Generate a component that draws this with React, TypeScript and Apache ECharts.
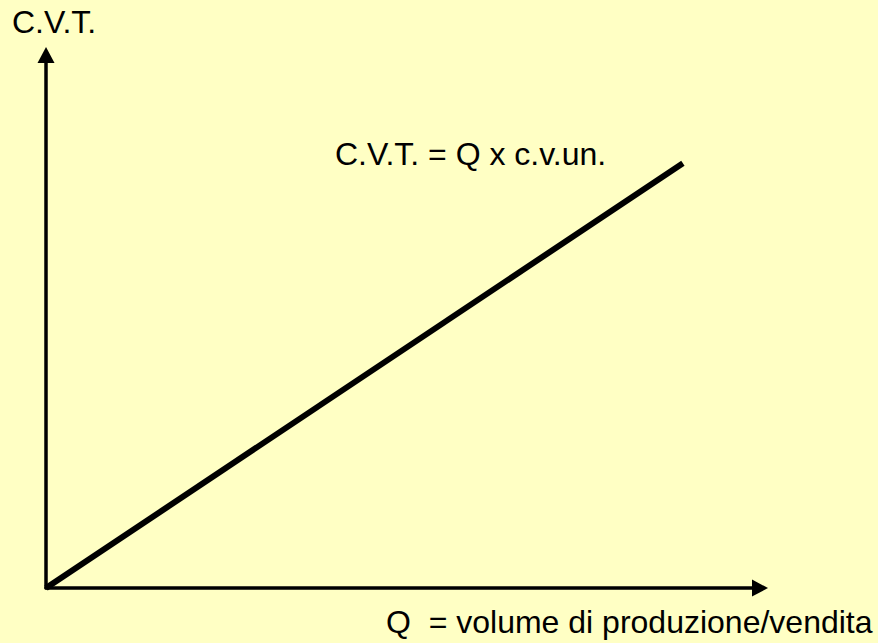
import React, { useEffect, useRef } from "react";
import * as echarts from "echarts";

const quantity: number[] = [0, 89.2];
const totalVariableCost: number[] = [0, 79.7];
const yAxisTitle = "C.V.T.";
const lineLabel = "C.V.T. = Q x c.v.un.";
const xAxisTitle = "Q  = volume di produzione/vendita";

const FONT = '32px "Liberation Sans", Arial, sans-serif';

export default function App() {
  const ref = useRef<HTMLDivElement>(null);
  useEffect(() => {
    if (!ref.current) return;
    const chart = echarts.init(ref.current, undefined, { renderer: "svg" });
    const axisCommon = {
      type: "value" as const,
      min: 0,
      max: 100,
      axisLine: {
        show: true,
        onZero: false,
        symbol: ["none", "triangle"],
        symbolSize: [17, 16],
        lineStyle: { color: "#000", width: 3.5 },
      },
      axisTick: { show: false },
      axisLabel: { show: false },
      splitLine: { show: false },
    };
    chart.setOption({
      animation: false,
      backgroundColor: "#FFFFC4",
      grid: { left: 46, top: 55, right: 118, bottom: 55 },
      xAxis: axisCommon,
      yAxis: axisCommon,
      series: [
        {
          type: "line",
          data: quantity.map((q, i) => [q, totalVariableCost[i]]),
          symbol: "none",
          lineStyle: { color: "#000", width: 6, cap: "butt" },
          silent: true,
        },
      ],
      graphic: [
        {
          type: "text",
          left: 12,
          top: 6,
          style: { text: yAxisTitle, font: FONT, fill: "#000" },
        },
        {
          type: "text",
          left: 335,
          top: 138,
          style: { text: lineLabel, font: FONT, fill: "#000" },
        },
        {
          type: "text",
          left: 386,
          top: 606,
          style: { text: xAxisTitle, font: FONT, fill: "#000" },
        },
      ],
    });
    return () => chart.dispose();
  }, []);
  return (
    <div
      ref={ref}
      style={{ position: "absolute", left: 0, top: 0, width: 878, height: 643 }}
    />
  );
}
